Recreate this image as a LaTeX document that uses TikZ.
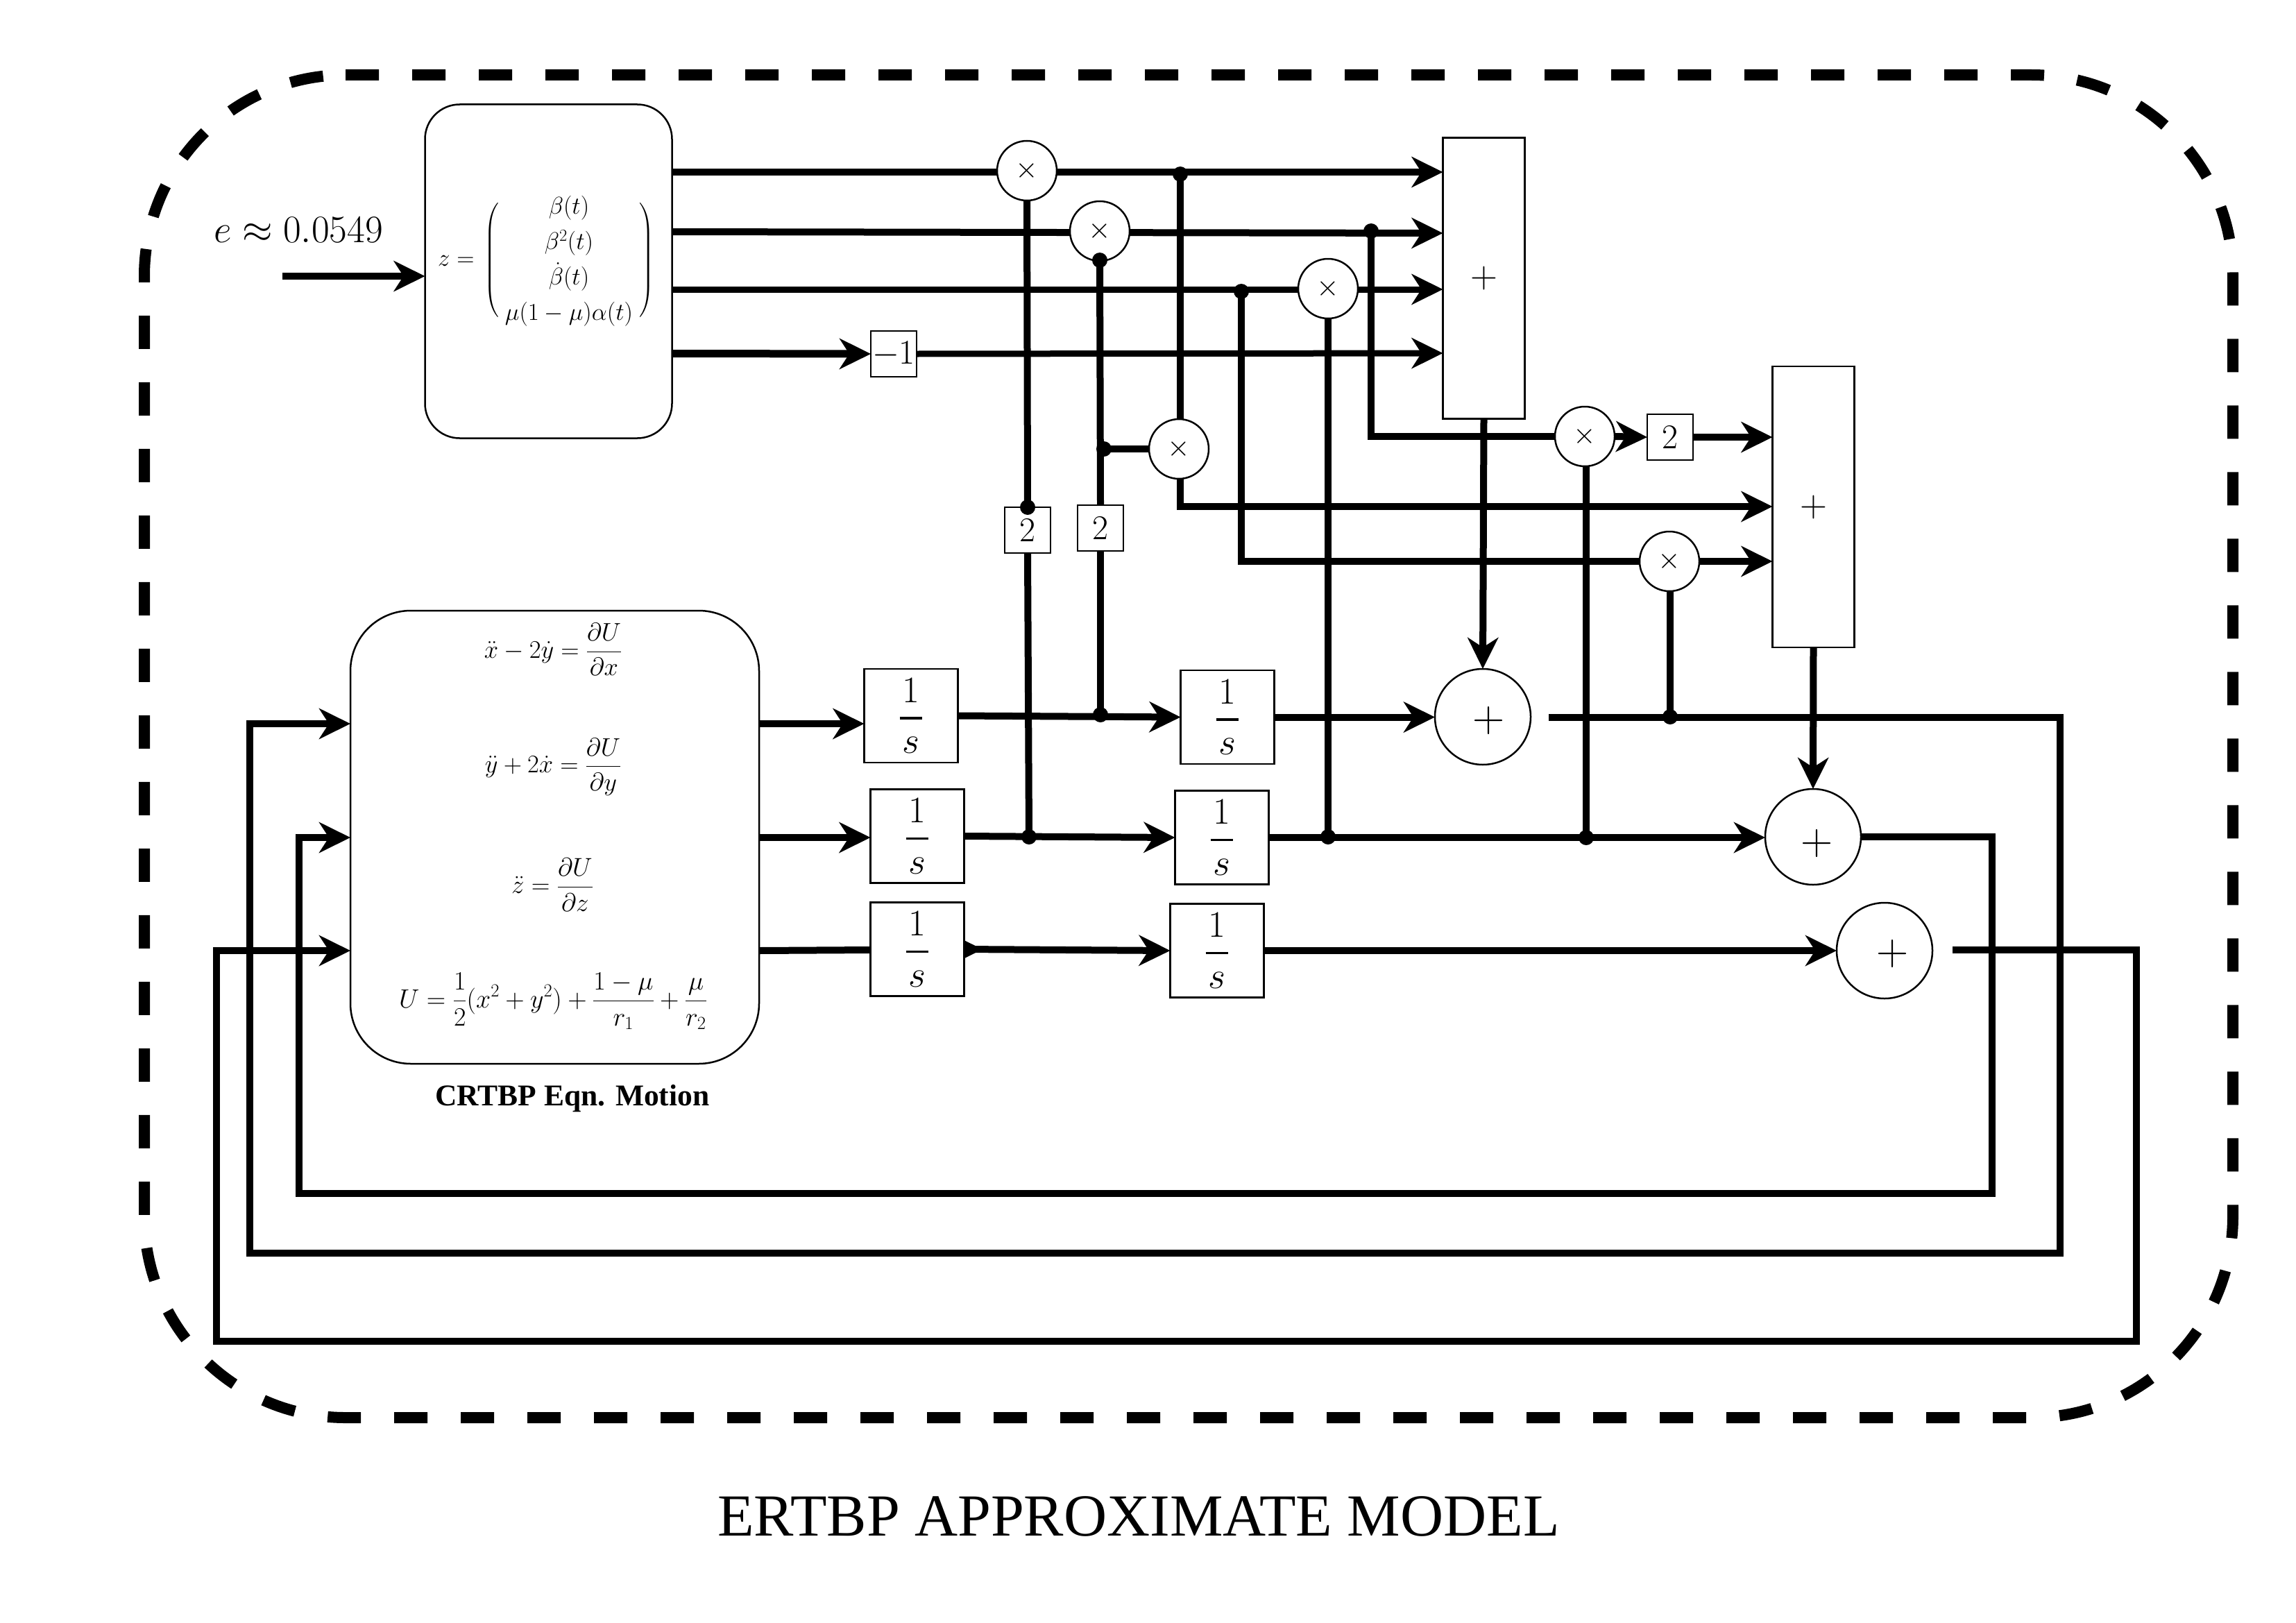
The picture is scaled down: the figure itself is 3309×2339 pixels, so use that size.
\RequirePackage{fix-cm}
\documentclass[tikz,border=0pt]{standalone}
\usepackage{amsmath}
\usepackage[no-math]{fontspec}
\newfontfamily\timesf{Liberation Serif}
\usetikzlibrary{arrows.meta,calc}
\pgfdeclarelayer{bg}
\pgfsetlayers{bg,main}
\newcommand{\fsz}[1]{\fontsize{#1}{#1}\selectfont}
\newcommand{\ones}{$\displaystyle\genfrac{}{}{3.5pt}{0}{\hspace{4pt}1\hspace{4pt}}{s}$}
\tikzset{
  thin box/.style={draw,line width=2.5pt,fill=white,inner sep=0pt,outer sep=0pt},
  sq/.style={thin box,rectangle,minimum width=66pt,minimum height=66pt,font=\fsz{50}},
  intbox/.style={thin box,rectangle,minimum width=135pt,minimum height=135pt,font=\fsz{54}},
  sumbar/.style={thin box,rectangle,minimum width=118pt,minimum height=405pt,font=\fsz{54}},
  mulc/.style={thin box,circle,minimum size=86pt,font=\fsz{42}},
  sumc/.style={thin box,circle,minimum size=138pt},
  plussign/.style={inner sep=0pt,font=\fsz{64}},
  rbox/.style={thin box,rectangle,rounded corners=#1},
  eqn/.style={inner sep=0pt,font=\fsz{#1}},
  dotn/.style={circle,fill=black,minimum size=22pt,inner sep=0pt,outer sep=0pt},
  wire/.style={line width=10pt,line join=miter},
  arrowwire/.style={wire,-{Stealth[length=45pt,width=44pt,inset=14pt]}},
}
\begin{document}
\begin{tikzpicture}[x=1pt,y=-1pt]
\useasboundingbox (0,0) rectangle (3309,2339);

% blocks
\node[rbox=50pt,minimum width=356pt,minimum height=481pt] (zbox) at (790.5,391) {};
\node[inner sep=0pt,font=\fontsize{35}{51}\selectfont] (zeq) at (787,375)
  {\arraycolsep=9pt\delimiterfactor=800\delimitershortfall=40pt$z=\mkern2mu\left(\begin{array}{c}\beta(t)\\ \beta^2(t)\\ \dot\beta(t)\\ \mu(1-\mu)\alpha(t)\end{array}\right)$};
\node[rbox=87pt,minimum width=589pt,minimum height=653pt] (bigbox) at (799.5,1206.5) {};
\node[eqn=36.5] (e1) at (797,936) {$\displaystyle \ddot x-2\dot y=\frac{\partial U}{\partial x}$};
\node[eqn=36.5] (e2) at (797,1105) {$\displaystyle \ddot y+2\dot x=\frac{\partial U}{\partial y}$};
\node[eqn=37] (e3) at (796,1275) {$\displaystyle \ddot z=\frac{\partial U}{\partial z}$};
\node[eqn=38] (e4) at (797,1443) {$\displaystyle U=\frac12(x^2+y^2)+\frac{1-\mu}{r_1}+\frac{\mu}{r_2}$};
\node[inner sep=0pt,font=\fsz{43.5}\timesf\bfseries] (crtbp) at (825,1583) {CRTBP Eqn. Motion};
\node[inner sep=0pt,font=\fsz{56}] (ecc) at (430,331) {$e\approx0.0549$};
\node[inner sep=0pt,font=\fsz{86}\timesf] (title) at (1641,2185) {ERTBP APPROXIMATE MODEL};

\node[sq] (n1) at (1288,510) {$-1$};
\node[sq] (two1) at (1481,764) {$2$};
\node[sq] (two2) at (1586,761) {$2$};
\node[sq] (two3) at (2407,630) {$2$};

\node[mulc] (m1) at (1480,246) {$\times$};
\node[mulc] (m2) at (1585,333) {$\times$};
\node[mulc] (m3) at (1914,416) {$\times$};
\node[mulc] (m4) at (1699,647) {$\times$};
\node[mulc] (m5) at (2284,629) {$\times$};
\node[mulc] (m6) at (2406,809) {$\times$};

\node[sumbar] (sa) at (2138.5,401) {$+$};
\node[sumbar] (sb) at (2613.5,730.5) {$+$};

\node[intbox] (ia) at (1313,1031.5) {\ones};
\node[intbox] (ib) at (1322,1205) {\ones};
\node[intbox] (ic) at (1322,1368) {\ones};
\node[intbox] (id) at (1769,1033.5) {\ones};
\node[intbox] (ie) at (1761,1207) {\ones};
\node[intbox] (if) at (1754,1370) {\ones};

\node[sumc] (pa) at (2137,1033) {};
\node[sumc] (pb) at (2613,1206) {};
\node[sumc] (pc) at (2716,1370) {};
\node[plussign] (pat) at (2146,1038) {$+$};
\node[plussign] (pbt) at (2619,1215) {$+$};
\node[plussign] (pct) at (2728,1374) {$+$};

% junction dots
\node[dotn] (d1) at (1481,731) {};
\node[dotn] (d2) at (1585,375) {};
\node[dotn] (d3) at (1591,647) {};
\node[dotn] (d4) at (1701,251) {};
\node[dotn] (d5) at (1789,420) {};
\node[dotn] (d6) at (1976,333) {};
\node[dotn] (d7) at (1483,1206) {};
\node[dotn] (d8) at (1586,1030) {};
\node[dotn] (d9) at (1914,1206) {};
\node[dotn] (d10) at (2286,1207) {};
\node[dotn] (d11) at (2407,1033) {};

% free ends
\coordinate (in) at (407,398);
\coordinate (f1) at (2232,1034);
\coordinate (f3) at (2814,1369);
\coordinate (hid) at (1416,1368);

\begin{pgfonlayer}{bg}
\draw[line width=16pt,dash pattern=on 48pt off 48pt,rounded corners=290pt]
  (498,108) -- (3218,108) -- (3218,2043) -- (208,2043) -- (208,108) -- (498,108);

\draw[arrowwire] (in) -- (zbox.west |- in);
\draw[arrowwire] (zbox.east |- 0,248) -- (sa.west |- 0,248);
\draw[arrowwire] (zbox.east |- 0,334) -- (sa.west |- 0,336);
\draw[arrowwire,line width=9pt] (zbox.east |- 0,417) -- (sa.west |- 0,417);
\draw[arrowwire,line width=11pt] (zbox.east |- 0,509.5) -- (n1.west);
\draw[arrowwire,line width=9pt] (n1.east) -- (sa.west |- 0,509);

\draw[wire] (m1.south) -- (d1.center);
\draw[wire] (two1.south) -- (d7.center);
\draw[wire] (d2.center) -- (two2.north);
\draw[wire] (two2.south) -- (d8.center);
\draw[wire] (d3.center) -- (m4.west);
\draw[wire] (d4.center) -- (d4 |- m4.north);
\draw[arrowwire] (d4 |- m4.south) |- (sb.west |- 0,730);
\draw[wire] (d5.center) |- (m6.west);
\draw[arrowwire] (m6.east) -- (sb.west |- m6);
\draw[wire] (d6.center) |- (m5.west);
\draw[arrowwire] (m5.east) -- (two3.west);
\draw[arrowwire] (two3.east) -- (sb.west |- two3);
\draw[wire] (m3.south) -- (d9.center);
\draw[wire] (m5.south -| d10) -- (d10.center);
\draw[wire] (m6.south -| d11) -- (d11.center);
\draw[arrowwire] (sa.south) -- (pa.north);
\draw[arrowwire] (sb.south) -- (pb.north);

\draw[arrowwire] (bigbox.east |- 0,1043) -- (ia.west |- 0,1043);
\draw[arrowwire] (bigbox.east |- 0,1207) -- (ib.west |- 0,1207);
\draw[arrowwire] (bigbox.east |- 0,1370) -- (hid);
\draw[arrowwire] (ia.east) -- (id.west);
\draw[arrowwire] (ib.east) -- (ie.west);
\draw[arrowwire] (ic.east) -- (if.west);
\draw[arrowwire] (id.east) -- (pa.west |- id);
\draw[arrowwire] (ie.east) -- (pb.west |- ie);
\draw[arrowwire] (if.east) -- (pc.west);

\draw[arrowwire] (f1) -- (2969,1034) -- (2969,1806) -- (360,1806) -- (360,1043) -- (bigbox.west |- 0,1043);
\draw[arrowwire] (pb.east) -- (2871,1206) -- (2871,1720) -- (431,1720) -- (431,1207) -- (bigbox.west |- 0,1207);
\draw[arrowwire] (f3) -- (3079,1369) -- (3079,1933) -- (311.5,1933) -- (311.5,1370) -- (bigbox.west |- 0,1370);
\end{pgfonlayer}
\end{tikzpicture}
\end{document}
